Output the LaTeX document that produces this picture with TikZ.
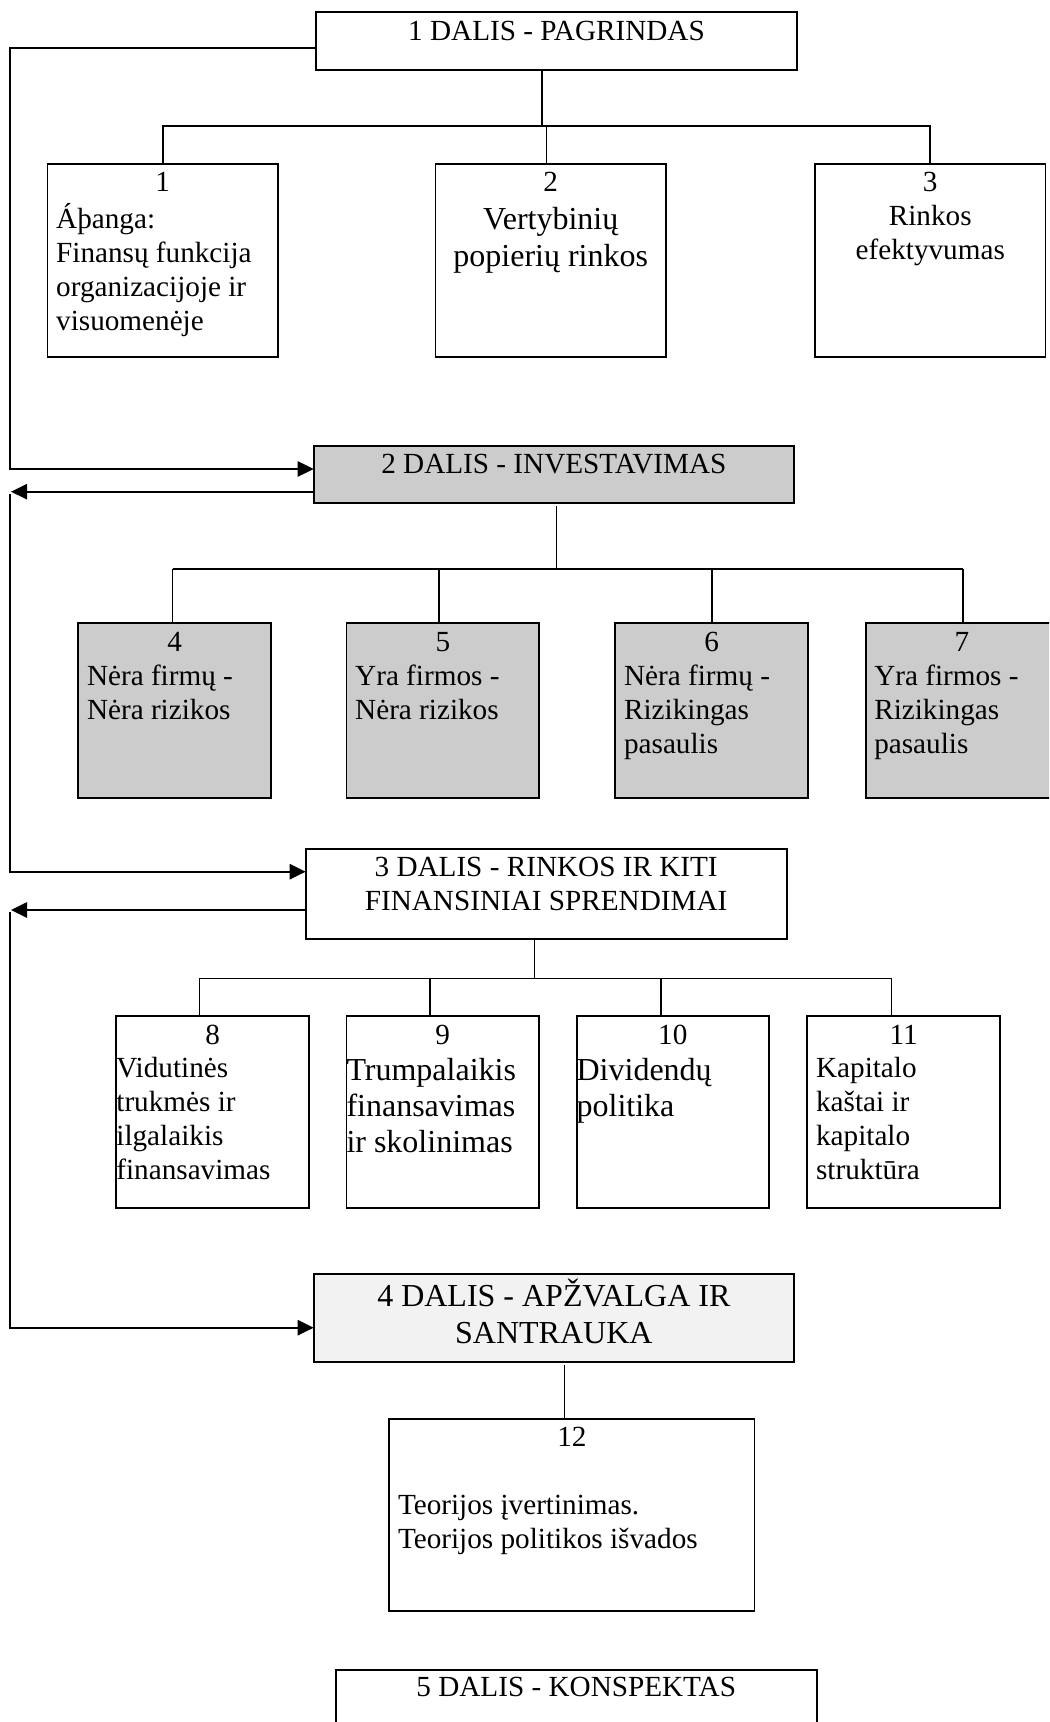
\documentclass[tikz,border=0pt]{standalone}
\usepackage{fontspec}
\setmainfont{Liberation Serif}
\usetikzlibrary{arrows.meta}
\newcommand\fn{\fontsize{14.6pt}{16.9pt}\selectfont}
\begin{document}
\begin{tikzpicture}[x=0.5pt,y=-0.5pt,
  bx/.style={draw=black, line width=0.95pt, inner sep=0pt, outer sep=0pt, anchor=north west},
  conn/.style={line width=0.8pt},
  fb/.style={line width=1pt},
  fba/.style={fb, -{Triangle[length=8pt,width=7.6pt]}}]
\useasboundingbox (0,0) rectangle (1049,1722);
\fill[white] (0,0) rectangle (1049,1722);
\clip (0,0) rectangle (1049,1722);

% ---- part 1
\node[bx] (P1) at (316,12.3) {\parbox[b][29pt][t]{240.5pt}{\fn\vspace*{2.37pt}\centering\strut 1 DALIS - PAGRINDAS}};
\node[bx] (C1) at (47.5,164) {\parbox[b][96.5pt][t]{115.25pt}{\fn\vspace*{2.02pt}{\centering\strut 1\par}\raggedright\leftskip=4.35pt\relax Áþanga:\\Finansų funkcija\\organizacijoje ir\\visuomenėje}};
\node[bx] (C2) at (435.5,164) {\parbox[b][96.5pt][t]{115.25pt}{\fn\vspace*{2.02pt}\centering\strut 2\par\fontsize{16pt}{18.75pt}\selectfont Vertybinių\\popierių rinkos}};
\node[bx] (C3) at (815,164) {\parbox[b][96.5pt][t]{115.25pt}{\fn\vspace*{2.02pt}\centering\strut 3\\Rinkos\\efektyvumas}};

% ---- part 2
\node[bx, fill={rgb,255:red,204;green,204;blue,204}] (D2) at (313.7,445.7) {\parbox[b][28.8pt][t]{240.15pt}{\fn\vspace*{1.97pt}\centering\strut 2 DALIS - INVESTAVIMAS}};
\node[bx, fill={rgb,255:red,204;green,204;blue,204}] (B4) at (78.3,623.3) {\parbox[b][87.2pt][t]{96.3pt}{\fn\vspace*{2.37pt}{\centering\strut 4\par}\raggedright\leftskip=4.35pt\relax Nėra firmų -\\Nėra rizikos}};
\node[bx, fill={rgb,255:red,204;green,204;blue,204}] (B5) at (346.5,623.3) {\parbox[b][87.2pt][t]{96.3pt}{\fn\vspace*{2.37pt}{\centering\strut 5\par}\raggedright\leftskip=4.35pt\relax Yra firmos -\\Nėra rizikos}};
\node[bx, fill={rgb,255:red,204;green,204;blue,204}] (B6) at (615.4,623.3) {\parbox[b][87.2pt][t]{96.3pt}{\fn\vspace*{2.37pt}{\centering\strut 6\par}\raggedright\leftskip=4.35pt\relax Nėra firmų -\\Rizikingas\\pasaulis}};
\node[bx, fill={rgb,255:red,204;green,204;blue,204}] (B7) at (865.6,623.3) {\parbox[b][87.2pt][t]{96.3pt}{\fn\vspace*{2.37pt}{\centering\strut 7\par}\raggedright\leftskip=4.35pt\relax Yra firmos -\\Rizikingas\\pasaulis}};

% ---- part 3
\node[bx] (D3) at (305.7,849) {\parbox[b][45pt][t]{240.45pt}{\fn\vspace*{2.02pt}\centering\strut 3 DALIS - RINKOS IR KITI\\FINANSINIAI SPRENDIMAI}};
\node[bx] (B8) at (116.4,1015.7) {\parbox[b][96.3pt][t]{96.2pt}{\fn\vspace*{2.32pt}{\centering\strut 8\par}\raggedright Vidutinės\\trukmės ir\\ilgalaikis\\finansavimas}};
\node[bx] (B9) at (346.5,1015.7) {\parbox[b][96.3pt][t]{96.2pt}{\fn\vspace*{2.32pt}{\centering\strut 9\par}\raggedright\fontsize{16pt}{18pt}\selectfont Trumpalaikis\\finansavimas\\ir skolinimas}};
\node[bx] (B10) at (576.6,1015.7) {\parbox[b][96.3pt][t]{96.2pt}{\fn\vspace*{2.32pt}{\centering\strut 10\par}\raggedright\fontsize{16pt}{18pt}\selectfont Dividendų\\politika}};
\node[bx] (B11) at (807.4,1015.7) {\parbox[b][96.3pt][t]{96.2pt}{\fn\vspace*{2.32pt}{\centering\strut 11\par}\raggedright\leftskip=4.35pt\relax Kapitalo\\kaštai ir\\kapitalo\\struktūra}};

% ---- part 4
\node[bx, fill={rgb,255:red,242;green,242;blue,242}] (D4) at (313.7,1274) {\parbox[b][43.85pt][t]{240.15pt}{\fontsize{16pt}{18.35pt}\selectfont\vspace*{2.65pt}\centering\strut 4 DALIS - APŽVALGA IR\\SANTRAUKA}};
\node[bx] (B12) at (389.3,1419) {\parbox[b][96pt][t]{182.6pt}{\fn\vspace*{2.02pt}{\centering\strut 12\par}\vspace{16.9pt}\raggedright\leftskip=4.35pt\relax Teorijos įvertinimas.\\Teorijos politikos išvados}};

% ---- part 5
\node[bx] (D5) at (335.8,1670) {\parbox[b][30pt][t]{240.45pt}{\fn\vspace*{1.52pt}\centering\strut 5 DALIS - KONSPEKTAS}};

% ---- tree connectors
\coordinate (j1) at (542,126);
\coordinate (j1b) at (546.5,126);
\draw[conn] (P1.south -| j1) -- (j1);
\draw[conn] (C1.north) |- (j1) -| (C3.north);
\draw[conn] (j1b) -- (j1b |- C2.north);

\coordinate (j2t) at (556.5,506);
\coordinate (j2) at (556.5,568.7);
\coordinate (k4) at (172.6,568.7);
\coordinate (k5) at (438.8,568.7);
\coordinate (k6) at (712,568.7);
\coordinate (k7) at (963,568.7);
\draw[conn] (j2t) -- (j2);
\draw[conn] (k4) -- (k7);
\draw[conn] (k4) -- (k4 |- B4.north);
\draw[conn] (k5) -- (k5 |- B5.north);
\draw[conn] (k6) -- (k6 |- B6.north);
\draw[conn] (k7) -- (k7 |- B7.north);

\coordinate (j3) at (534.4,978.3);
\coordinate (k8) at (199.3,978.3);
\coordinate (k9) at (430,978.3);
\coordinate (k10) at (661,978.3);
\coordinate (k11) at (891.6,978.3);
\draw[conn] (D3.south -| j3) -- (j3);
\draw[conn] (k8) -- (k11);
\draw[conn] (k8) -- (k8 |- B8.north);
\draw[conn] (k9) -- (k9 |- B9.north);
\draw[conn] (k10) -- (k10 |- B10.north);
\draw[conn] (k11) -- (k11 |- B11.north);

\coordinate (m4) at (564.5,1365);
\draw[conn] (m4) -- (m4 |- B12.north);

% ---- feedback lines on the left
\coordinate (a0) at (10,47.7);
\coordinate (a1) at (10,469);
\draw[fba] (P1.west |- a0) -- (a0) -- (a1) -- (D2.west |- a1);
\coordinate (a2) at (11,491.7);
\draw[fba] (D2.west |- a2) -- (a2);
\coordinate (a3) at (10,494);
\coordinate (a4) at (10,871.7);
\draw[fba] (a3) -- (a4) -- (D3.west |- a4);
\coordinate (a5) at (11,910);
\draw[fba] (D3.west |- a5) -- (a5);
\coordinate (a6) at (10,912);
\coordinate (a7) at (10,1327.7);
\draw[fba] (a6) -- (a7) -- (D4.west |- a7);
\end{tikzpicture}
\end{document}
